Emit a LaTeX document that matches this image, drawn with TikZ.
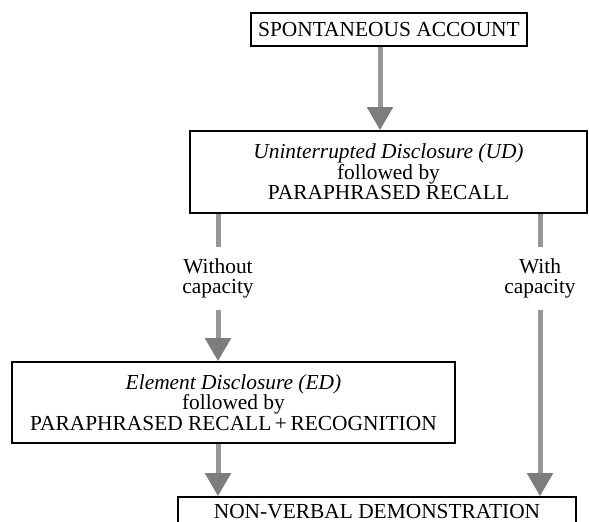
\documentclass[tikz,border=0pt]{standalone}
\usepackage{fontspec}
\setmainfont{Liberation Serif}
\usetikzlibrary{arrows.meta}

\tikzset{
  stagebox/.style={draw, line width=0.8pt, align=center, inner sep=2pt,
    font=\rmfamily\fontsize{10.7}{10.3}\selectfont},
  branchlabel/.style={align=center, inner sep=0pt, minimum height=31.5pt,
    font=\rmfamily\fontsize{10.7}{10.3}\selectfont},
  flow/.style={draw=shaftgray, line width=2.5pt,
    -{Triangle[width=12.5pt, length=11.5pt, fill=headgray, color=headgray]}},
  plainflow/.style={draw=shaftgray, line width=2.5pt}
}
\definecolor{shaftgray}{RGB}{150,150,150}
\definecolor{headgray}{RGB}{125,125,125}

\begin{document}
\begin{tikzpicture}[x=0.5pt, y=-0.5pt]

  % Fix the page to the size of the reference
  \useasboundingbox (0,0) rectangle (589,522);

  % Draw the stages
  \node[stagebox, minimum width=138pt, minimum height=16.5pt] (spont) at (389,29.5)
    {SPONTANEOUS ACCOUNT};
  \node[stagebox, minimum width=198.5pt, minimum height=41pt] (ud) at (388.5,172)
    {\textit{Uninterrupted Disclosure (UD)}\\followed by\\PARAPHRASED RECALL};
  \node[stagebox, minimum width=221.5pt, minimum height=40.5pt] (ed) at (233.5,402.5)
    {\textit{Element Disclosure (ED)}\\followed by\\PARAPHRASED RECALL\,+\,RECOGNITION};
  % The last stage runs past the lower edge of the page
  \node[stagebox, minimum width=199pt, minimum height=15pt] (nv) at (377,512)
    {NON-VERBAL DEMONSTRATION};

  % Labels of the two branches
  \node[branchlabel] (without) at (218,278.5) {Without\\capacity};
  \node[branchlabel] (with) at (540,278.5) {With\\capacity};

  % Draw the arrows between the stages
  \draw[flow] ([xshift=-4.5pt]spont.south) -- ([xshift=-4.5pt]spont.south |- ud.north);

  \draw[plainflow] (ud.south -| without.north) -- (without.north);
  \draw[flow] (without.south) -- (without.south |- ed.north);

  \draw[plainflow] (ud.south -| with.north) -- (with.north);
  \draw[flow] (with.south) -- (with.south |- nv.north);

  \draw[flow] (ed.south -| without.south) -- (without.south |- nv.north);

\end{tikzpicture}
\end{document}
